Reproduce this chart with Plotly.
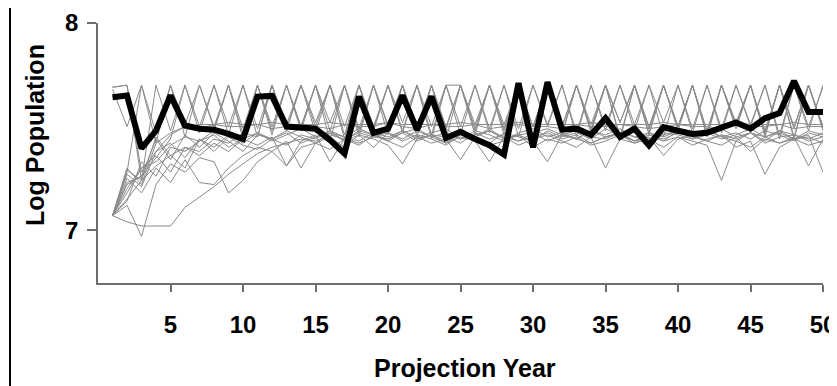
import plotly.graph_objects as go

years = list(range(1, 51))

# Highlighted (thick black) trajectory
black = [7.642, 7.650, 7.395, 7.480, 7.650, 7.505, 7.490, 7.485, 7.465, 7.440,
         7.645, 7.648, 7.500, 7.495, 7.490, 7.435, 7.370, 7.645, 7.470, 7.490,
         7.650, 7.485, 7.645, 7.445, 7.475, 7.440, 7.410, 7.365, 7.710, 7.400,
         7.715, 7.485, 7.490, 7.460, 7.540, 7.450, 7.490, 7.410, 7.497, 7.480,
         7.464, 7.470, 7.495, 7.520, 7.490, 7.540, 7.565, 7.720, 7.570, 7.570]

# Grey simulated trajectories
g01 = [7.68,7.50,7.70,7.47,7.70,7.51,7.70,7.49,7.70,7.46,7.70,7.50,7.70,7.48,7.70,7.52,7.70,7.47,7.70,7.50,
       7.70,7.45,7.70,7.49,7.70,7.51,7.70,7.48,7.70,7.50,7.70,7.46,7.70,7.49,7.70,7.52,7.70,7.47,7.70,7.50,
       7.70,7.48,7.70,7.51,7.70,7.46,7.70,7.49,7.70,7.50]
g02 = [7.69,7.70,7.24,7.70,7.48,7.70,7.50,7.70,7.46,7.70,7.49,7.70,7.51,7.70,7.47,7.70,7.50,7.70,7.48,7.70,
       7.52,7.70,7.46,7.70,7.50,7.70,7.47,7.70,7.49,7.70,7.51,7.70,7.45,7.70,7.50,7.70,7.48,7.70,7.52,7.70,
       7.47,7.70,7.49,7.70,7.51,7.70,7.46,7.70,7.50,7.69]
g03 = [7.07,7.28,7.70,7.42,7.70,7.45,7.70,7.50,7.70,7.44,7.70,7.48,7.70,7.50,7.70,7.43,7.70,7.49,7.70,7.46,
       7.70,7.50,7.70,7.44,7.70,7.48,7.70,7.51,7.70,7.45,7.70,7.50,7.70,7.47,7.70,7.44,7.70,7.50,7.70,7.48,
       7.70,7.45,7.70,7.50,7.70,7.47,7.70,7.44,7.70,7.49]
g04 = [7.07,7.22,7.26,7.35,7.44,7.70,7.47,7.70,7.50,7.70,7.45,7.70,7.49,7.70,7.52,7.70,7.46,7.70,7.50,7.70,
       7.48,7.70,7.44,7.70,7.70,7.49,7.70,7.46,7.70,7.50,7.70,7.47,7.70,7.51,7.70,7.45,7.70,7.49,7.70,7.50,
       7.70,7.46,7.70,7.52,7.70,7.48,7.70,7.45,7.70,7.50]
g05 = [7.07,7.18,7.30,7.33,7.41,7.45,7.43,7.48,7.70,7.49,7.70,7.46,7.70,7.50,7.70,7.48,7.70,7.45,7.70,7.51,
       7.70,7.47,7.70,7.50,7.70,7.46,7.70,7.49,7.70,7.44,7.70,7.50,7.70,7.48,7.70,7.52,7.70,7.46,7.70,7.50,
       7.70,7.47,7.70,7.49,7.70,7.45,7.70,7.50,7.70,7.48]
g06 = [7.07,7.15,7.24,7.31,7.36,7.40,7.38,7.44,7.42,7.47,7.45,7.70,7.48,7.70,7.50,7.70,7.44,7.70,7.49,7.70,
       7.47,7.70,7.50,7.70,7.46,7.70,7.49,7.70,7.45,7.70,7.50,7.70,7.47,7.70,7.48,7.70,7.51,7.70,7.45,7.70,
       7.49,7.70,7.47,7.70,7.50,7.70,7.44,7.70,7.48,7.70]
g07 = [7.69,7.70,7.28,7.38,7.46,7.50,7.51,7.51,7.52,7.51,7.51,7.52,7.51,7.51,7.51,7.52,7.51,7.51,7.51,7.52,
       7.51,7.51,7.51,7.51,7.52,7.51,7.51,7.51,7.52,7.51,7.51,7.51,7.51,7.52,7.51,7.51,7.51,7.51,7.52,7.51,
       7.51,7.51,7.51,7.52,7.51,7.51,7.51,7.52,7.51,7.51]
g08 = [7.07,7.30,7.22,7.42,7.47,7.50,7.49,7.51,7.50,7.50,7.51,7.49,7.50,7.51,7.50,7.49,7.51,7.50,7.50,7.52,
       7.50,7.49,7.51,7.50,7.50,7.51,7.49,7.50,7.51,7.50,7.50,7.49,7.51,7.50,7.50,7.51,7.50,7.49,7.50,7.51,
       7.50,7.50,7.49,7.51,7.50,7.50,7.51,7.49,7.50,7.50]
g09 = [7.07,7.04,7.02,7.02,7.02,7.11,7.16,7.21,7.27,7.32,7.37,7.40,7.42,7.44,7.43,7.46,7.44,7.47,7.45,7.44,
       7.47,7.43,7.46,7.45,7.42,7.47,7.44,7.46,7.43,7.45,7.47,7.44,7.46,7.42,7.45,7.47,7.43,7.46,7.44,7.47,
       7.45,7.43,7.46,7.44,7.47,7.42,7.45,7.46,7.43,7.45]
g10 = [7.07,7.12,6.97,7.22,7.32,7.28,7.35,7.33,7.18,7.24,7.33,7.38,7.31,7.40,7.42,7.39,7.44,7.41,7.46,7.43,
       7.40,7.45,7.42,7.44,7.34,7.45,7.41,7.43,7.46,7.40,7.44,7.42,7.45,7.41,7.43,7.46,7.42,7.44,7.40,7.45,
       7.43,7.41,7.24,7.43,7.40,7.45,7.42,7.44,7.41,7.43]
g11 = [7.07,7.25,7.18,7.30,7.23,7.34,7.23,7.22,7.30,7.36,7.40,7.38,7.43,7.30,7.42,7.45,7.40,7.46,7.44,7.41,
       7.32,7.44,7.46,7.42,7.45,7.43,7.33,7.45,7.41,7.44,7.46,7.43,7.40,7.45,7.30,7.44,7.42,7.46,7.43,7.45,
       7.41,7.44,7.46,7.40,7.43,7.27,7.40,7.44,7.45,7.42]
g12 = [7.07,7.20,7.30,7.36,7.28,7.40,7.36,7.42,7.38,7.44,7.41,7.45,7.31,7.43,7.46,7.33,7.44,7.42,7.45,7.47,
       7.43,7.46,7.44,7.41,7.46,7.44,7.42,7.47,7.45,7.43,7.33,7.46,7.44,7.42,7.45,7.47,7.43,7.45,7.36,7.44,
       7.46,7.43,7.41,7.45,7.38,7.44,7.42,7.45,7.31,7.44]
g13 = [7.07,7.27,7.21,7.38,7.42,7.35,7.44,7.40,7.46,7.42,7.47,7.44,7.41,7.46,7.44,7.48,7.45,7.43,7.47,7.45,
       7.48,7.44,7.46,7.43,7.47,7.45,7.48,7.44,7.46,7.47,7.43,7.46,7.48,7.45,7.44,7.47,7.45,7.43,7.47,7.46,
       7.44,7.48,7.45,7.43,7.47,7.45,7.48,7.44,7.46,7.28]
g14 = [7.07,7.23,7.26,7.44,7.34,7.46,7.40,7.47,7.43,7.38,7.46,7.44,7.48,7.45,7.42,7.47,7.45,7.49,7.46,7.43,
       7.47,7.49,7.45,7.47,7.44,7.48,7.46,7.43,7.47,7.49,7.45,7.47,7.44,7.48,7.46,7.49,7.45,7.47,7.43,7.48,
       7.46,7.49,7.45,7.47,7.44,7.48,7.46,7.43,7.47,7.45]
g15 = [7.07,7.29,7.24,7.45,7.36,7.30,7.44,7.38,7.45,7.41,7.39,7.44,7.47,7.42,7.45,7.48,7.43,7.46,7.40,7.47,
       7.44,7.48,7.45,7.42,7.47,7.45,7.49,7.44,7.46,7.43,7.48,7.45,7.47,7.44,7.49,7.46,7.43,7.47,7.45,7.48,
       7.44,7.46,7.49,7.45,7.47,7.43,7.48,7.46,7.44,7.47]
g16 = [7.07,7.14,7.33,7.26,7.40,7.38,7.43,7.46,7.40,7.44,7.47,7.43,7.46,7.49,7.45,7.47,7.43,7.48,7.46,7.44,
       7.48,7.45,7.47,7.49,7.44,7.46,7.48,7.45,7.43,7.47,7.49,7.46,7.44,7.48,7.45,7.47,7.49,7.44,7.46,7.48,
       7.45,7.47,7.44,7.46,7.49,7.45,7.47,7.44,7.48,7.46]

grey_series = [g01, g02, g03, g04, g05, g06, g07, g08, g09, g10,
               g11, g12, g13, g14, g15, g16]

x_ticks = [5, 10, 15, 20, 25, 30, 35, 40, 45, 50]
y_ticks = [7, 8]

fig = go.Figure()
for s in grey_series:
    fig.add_trace(go.Scatter(x=years, y=s, mode="lines",
                             line=dict(color="#8a8a8a", width=1),
                             hoverinfo="skip", showlegend=False))
fig.add_trace(go.Scatter(x=years, y=black, mode="lines",
                         line=dict(color="black", width=6),
                         hoverinfo="skip", showlegend=False))

font_family = "Liberation Sans, Arial, sans-serif"
axis_col = "#6e6e6e"

# The page body adds an 8px offset, so the figure is laid out 8px smaller.
W, H = 829, 378
L, R, T, B = 90, 14, 15, 103
PW, PH = W - L - R, H - T - B


def px_x(px):
    return (px - L) / PW


def px_y(py):
    return (H - B - py) / PH


fig.update_layout(
    width=W, height=H,
    margin=dict(l=L, r=R, t=T, b=B, autoexpand=False),
    paper_bgcolor="white", plot_bgcolor="white",
    showlegend=False,
    xaxis=dict(range=[0, 50], tickmode="array", tickvals=x_ticks,
               ticks="outside", ticklen=7, tickwidth=1.5, tickcolor=axis_col,
               showline=True, linecolor=axis_col, linewidth=1.5,
               showgrid=False, zeroline=False, automargin=False,
               ticklabelstandoff=12,
               tickfont=dict(family=font_family, size=24, color="black", weight="bold")),
    yaxis=dict(range=[6.745, 8.0], tickmode="array", tickvals=y_ticks,
               ticks="outside", ticklen=9, tickwidth=1.5, tickcolor=axis_col,
               showline=True, linecolor=axis_col, linewidth=1.5,
               showgrid=False, zeroline=False, automargin=False,
               ticklabelstandoff=4,
               tickfont=dict(family=font_family, size=24, color="black", weight="bold")),
    annotations=[
        dict(text="Projection Year", xref="paper", yref="paper",
             x=px_x(457), y=px_y(360),
             xanchor="center", yanchor="middle", showarrow=False,
             font=dict(family=font_family, size=25, color="black", weight="bold")),
        dict(text="Log Population", xref="paper", yref="paper",
             x=px_x(27), y=px_y(127), textangle=-90,
             xanchor="center", yanchor="middle", showarrow=False,
             font=dict(family=font_family, size=25, color="black", weight="bold")),
    ],
    shapes=[
        dict(type="line", xref="paper", yref="paper",
             x0=px_x(2), x1=px_x(2), y0=px_y(0), y1=px_y(H + 5),
             line=dict(color="black", width=2)),
    ],
)

fig.write_html("out.html")
